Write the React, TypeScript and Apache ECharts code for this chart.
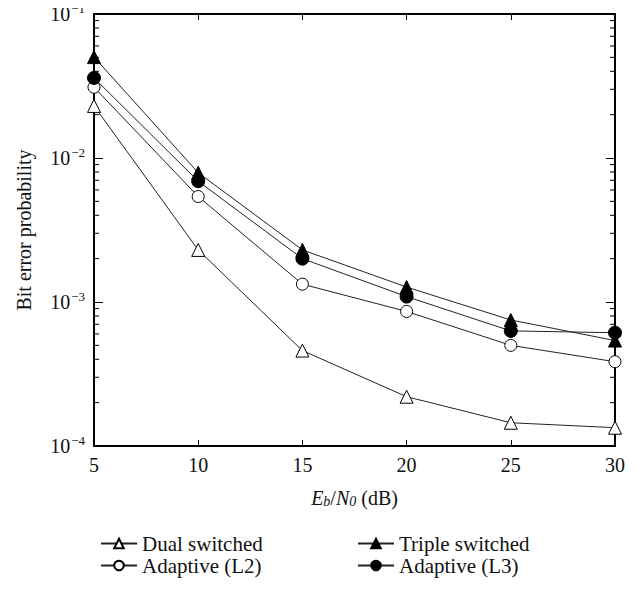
import React, { useEffect, useRef } from "react";
import * as echarts from "echarts";

const snr = [5, 10, 15, 20, 25, 30];
const dualSwitched = [0.023, 0.0023, 0.00046, 0.00022, 0.000145, 0.000134];
const tripleSwitched = [0.0502, 0.0079, 0.0023, 0.00127, 0.00075, 0.00054];
const adaptiveL2 = [0.031, 0.0054, 0.00133, 0.00086, 0.0005, 0.000385];
const adaptiveL3 = [0.036, 0.0069, 0.002, 0.00109, 0.00063, 0.000612];
const yMinorTicks: number[] = [];
for (const d of [1e-4, 1e-3, 1e-2]) for (let k = 2; k <= 9; k++) yMinorTicks.push(+(d * k).toPrecision(3));

const FONT = "'Liberation Serif', 'DejaVu Serif', serif";

export default function App() {
  const ref = useRef<HTMLDivElement>(null);
  useEffect(() => {
    if (!ref.current) return;
    const chart = echarts.init(ref.current, undefined, { renderer: "svg" });
    const mk = (name: string, data: number[], symbol: string, filled: boolean, size: number) => ({
      name,
      type: "line",
      data: snr.map((x, i) => [x, data[i]]),
      symbol,
      symbolSize: size,
      showAllSymbol: true,
      lineStyle: { color: "#222", width: 1 },
      itemStyle: { color: filled ? "#000" : "#fff", borderColor: "#000", borderWidth: 1 },
      z: 3,
    });
    const supLabel = (v: number) => {
      const e = Math.round(Math.log10(v));
      return `{b|10}{s|\u2212${Math.abs(e)}}`;
    };
    const rich = {
      b: { fontFamily: FONT, fontSize: 20, color: "#111" },
      s: { fontFamily: FONT, fontSize: 13, color: "#111", verticalAlign: "top", padding: [0, 0, 12, 1] },
    };
    const legendText = { fontFamily: FONT, fontSize: 21, color: "#111" };
    chart.setOption({
      animation: false,
      backgroundColor: "#fff",
      textStyle: { fontFamily: FONT },
      grid: { left: 94, right: 22, top: 14, bottom: 154, outerBoundsMode: "none", containLabel: false },
      xAxis: [
        {
          type: "value",
          min: 5,
          max: 30,
          interval: 5,
          position: "bottom",
          axisLine: { lineStyle: { color: "#000", width: 2 } },
          axisTick: { inside: true, length: 6, lineStyle: { color: "#000" } },
          splitLine: { show: false },
          axisLabel: { fontFamily: FONT, fontSize: 20, color: "#111", margin: 9 },
          name: "{i|E}{sub|b}{n|/}{i|N}{sub|0}{n| (dB)}",
          nameLocation: "middle",
          nameGap: 42,
          nameTextStyle: {
            fontFamily: FONT,
            rich: {
              i: { fontFamily: FONT, fontSize: 20, fontStyle: "italic", color: "#111" },
              n: { fontFamily: FONT, fontSize: 20, color: "#111" },
              sub: { fontFamily: FONT, fontSize: 14, fontStyle: "italic", color: "#111", verticalAlign: "bottom", padding: [6, 0, 0, 0] },
            },
          },
        },
        {
          type: "value",
          min: 5,
          max: 30,
          interval: 5,
          position: "top",
          axisLine: { lineStyle: { color: "#000", width: 2 } },
          axisTick: { inside: true, length: 6, lineStyle: { color: "#000" } },
          splitLine: { show: false },
          axisLabel: { show: false },
        },
      ],
      yAxis: [
        {
          type: "log",
          logBase: 10,
          min: 1e-4,
          max: 1e-1,
          position: "left",
          axisLine: { show: true, lineStyle: { color: "#000", width: 2 } },
          axisTick: { inside: true, length: 9, lineStyle: { color: "#000" } },
          minorTick: { show: false },
          splitLine: { show: false },
          axisLabel: { formatter: supLabel, rich, margin: 9, fontFamily: FONT },
          name: "Bit error probability",
          nameLocation: "middle",
          nameGap: 60,
          nameTextStyle: { fontFamily: FONT, fontSize: 20, color: "#111" },
        },
        {
          type: "log",
          logBase: 10,
          min: 1e-4,
          max: 1e-1,
          position: "right",
          axisLine: { show: true, lineStyle: { color: "#000", width: 2 } },
          axisTick: { inside: true, length: 9, lineStyle: { color: "#000" } },
          splitLine: { show: false },
          axisLabel: { show: false },
        },
      ],
      legend: [
        {
          data: ["Dual switched", "Adaptive (L2)"],
          orient: "vertical",
          left: 95,
          top: 528,
          itemWidth: 36,
          itemHeight: 12,
          itemGap: 1,
          textStyle: legendText,
          selectedMode: false,
        },
        {
          data: ["Triple switched", "Adaptive (L3)"],
          orient: "vertical",
          left: 352,
          top: 528,
          itemWidth: 36,
          itemHeight: 12,
          itemGap: 1,
          textStyle: legendText,
          selectedMode: false,
        },
      ],
      series: [
        mk("Dual switched", dualSwitched, "triangle", false, 13),
        mk("Triple switched", tripleSwitched, "triangle", true, 13),
        mk("Adaptive (L2)", adaptiveL2, "circle", false, 12),
        mk("Adaptive (L3)", adaptiveL3, "circle", true, 13),
      ],
    });
    const leftX = chart.convertToPixel({ xAxisIndex: 0 }, 5) as number;
    const rightX = chart.convertToPixel({ xAxisIndex: 0 }, 30) as number;
    const graphics: any[] = [];
    yMinorTicks.forEach((v) => {
      const y = chart.convertToPixel({ yAxisIndex: 0 }, v) as number;
      graphics.push({ type: "line", shape: { x1: leftX, y1: y, x2: leftX + 5, y2: y }, style: { stroke: "#000", lineWidth: 1 } });
      graphics.push({ type: "line", shape: { x1: rightX - 5, y1: y, x2: rightX, y2: y }, style: { stroke: "#000", lineWidth: 1 } });
    });
    chart.setOption({ graphic: graphics });
    return () => chart.dispose();
  }, []);
  return <div ref={ref} style={{ width: 637, height: 600, margin: -8 }} />;
}
